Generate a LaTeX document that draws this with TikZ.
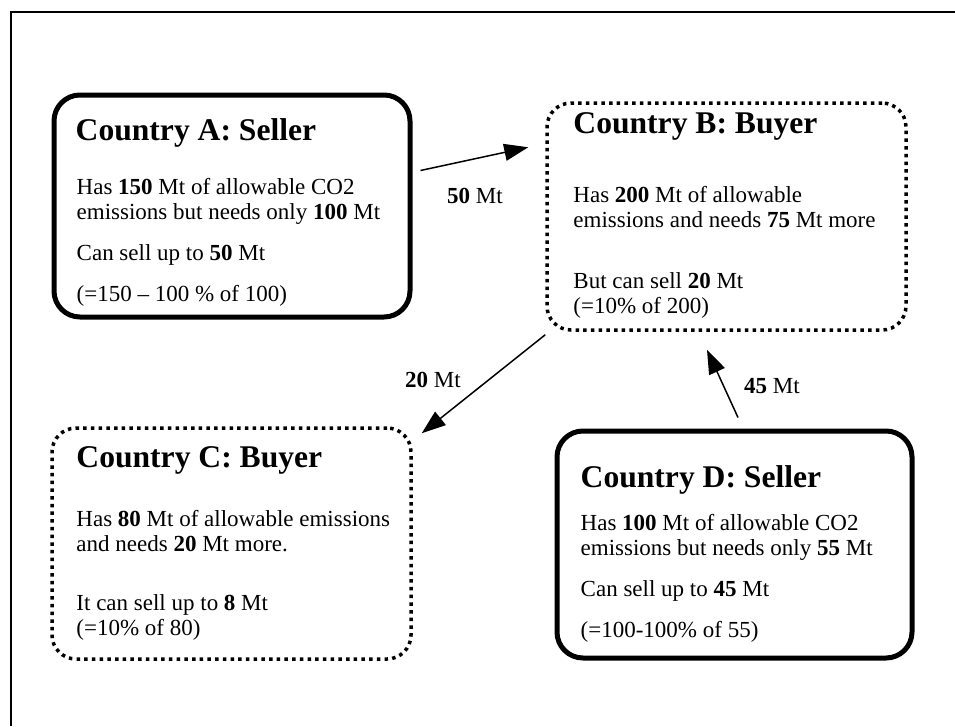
\documentclass[tikz,border=0pt]{standalone}
\usepackage{fontspec}
\setmainfont{Liberation Serif}
\usetikzlibrary{arrows.meta,positioning}
\begin{document}
\begin{tikzpicture}[x=1pt,y=-1pt,
    seller/.style={draw,line width=5pt,rounded corners=26pt,inner sep=0pt},
    buyer/.style={draw,line width=3.5pt,dash pattern=on 3.5pt off 4.2pt,rounded corners=24pt,inner sep=0pt},
    title/.style={font=\fontsize{31.6}{36}\selectfont\bfseries,inner sep=0pt,anchor=base west},
    body/.style={font=\fontsize{23}{25}\selectfont,align=left,inner sep=0pt,anchor=north west},
    flow/.style={-{Triangle[length=24pt,width=17pt]},line width=1.5pt},
    amount/.style={font=\fontsize{23}{25}\selectfont,inner sep=0pt}]
  \useasboundingbox (0,0) rectangle (955,726);
  \draw[line width=2pt] (955,12) -- (11,12) -- (11,726);
  % the four countries
  \node[seller,minimum width=356pt,minimum height=222pt] (A) at (232,206) {};
  \node[buyer,minimum width=359pt,minimum height=227pt] (B) at (726.5,216.5) {};
  \node[buyer,minimum width=359pt,minimum height=231pt] (C) at (231.5,543.5) {};
  \node[seller,minimum width=355pt,minimum height=227pt] (D) at (734.5,544.5) {};
  % texts
  \node[title] (Atitle) at ([shift={(24,48)}]A.north west) {Country A: Seller};
  \node[body] (Atext) at ([shift={(25,86)}]A.north west)
    {Has \textbf{150} Mt of allowable CO2\\ emissions but needs only \textbf{100} Mt\\[16pt]
     Can sell up to \textbf{50} Mt\\[16pt] (=150 -- 100 \% of 100)};
  \node[title] (Btitle) at ([shift={(28,32)}]B.north west) {Country B: Buyer};
  \node[body] (Btext) at ([shift={(28,85)}]B.north west)
    {Has \textbf{200} Mt of allowable\\ emissions and needs \textbf{75} Mt more\\[36pt]
     But can sell \textbf{20} Mt\\ (=10\% of 200)};
  \node[title] (Ctitle) at ([shift={(26,41)}]C.north west) {Country C: Buyer};
  \node[body] (Ctext) at ([shift={(26,84)}]C.north west)
    {Has \textbf{80} Mt of allowable emissions\\ and needs \textbf{20} Mt more.\\[34pt]
     It can sell up to \textbf{8} Mt\\ (=10\% of 80)};
  \node[title] (Dtitle) at ([shift={(26,59)}]D.north west) {Country D: Seller};
  \node[body] (Dtext) at ([shift={(26,86)}]D.north west)
    {Has \textbf{100} Mt of allowable CO2\\ emissions but needs only \textbf{55} Mt\\[16pt]
     Can sell up to \textbf{45} Mt\\[16pt] (=100-100\% of 55)};
  % trades
  \draw[flow] ([shift={(8,78)}]A.north east) -- ([shift={(-17,46)}]B.north west);
  \draw[flow] ([shift={(0,3)}]B.south west) -- ([shift={(9,7)}]C.north east);
  \draw[flow] ([shift={(3.5,-11)}]D.north) -- ([shift={(-19.5,18)}]B.south);
  \node[amount] (ab) at (475,196) {\textbf{50} Mt};
  \node[amount] (bc) at (433,380) {\textbf{20} Mt};
  \node[amount] (db) at (772,386) {\textbf{45} Mt};
\end{tikzpicture}
\end{document}
